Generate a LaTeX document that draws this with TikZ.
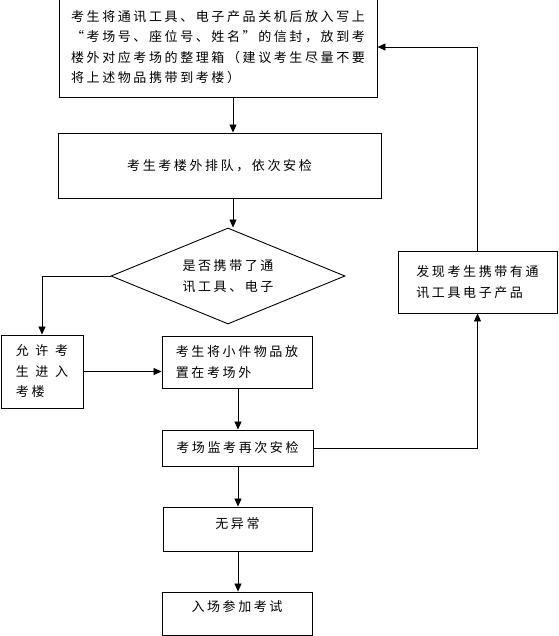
\documentclass[tikz,border=0pt]{standalone}
\usepackage{fontspec}
\newfontfamily\cjk[LetterSpace=20]{Noto Sans CJK SC}
\usetikzlibrary{
    arrows.meta,
    positioning,
    shapes.geometric,
    calc
}

\begin{document}
\begin{tikzpicture}[
    x=1pt, y=-1pt,
    font=\cjk\fontsize{13}{20.5}\selectfont,
    box/.style={
        rectangle,
        draw,
        line width=0.9pt,
        align=left,
        inner sep=0pt
    },
    cond/.style={
        diamond,
        draw,
        line width=0.9pt,
        align=center,
        inner sep=0pt,
        aspect=2.44,
        minimum width=234pt,
        minimum height=96pt
    },
    arrow/.style={-{Triangle[length=8pt, width=7pt]}, line width=0.8pt}
]
\useasboundingbox (0,0) rectangle (558,636);

% 流程框
\node[box, minimum width=318pt, minimum height=100pt] (store) at (218,47) {考生将通讯工具、电子产品关机后放入写上\\“考场号、座位号、姓名”的信封，放到考\\楼外对应考场的整理箱（建议考生尽量不要\\将上述物品携带到考楼）};
\node[box, minimum width=323pt, minimum height=65pt] (queue) at (219.5,165.5) {考生考楼外排队，依次安检};
\node[cond] (carry) at (228,276) {是否携带了通\\讯工具、电子};
\node[box, minimum width=82pt, minimum height=73pt] (allow) at (42,371.5) {允\hspace{6.5pt}许\hspace{6.5pt}考\\生\hspace{6.5pt}进\hspace{6.5pt}入\\考楼};
\node[box, minimum width=150pt, minimum height=52pt] (place) at (237,362) {考生将小件物品放\\置在考场外};
\node[box, minimum width=151pt, minimum height=36pt] (recheck) at (237.5,448) {考场监考再次安检};
\node[box, minimum width=159pt, minimum height=62pt] (found) at (477.5,282) {发现考生携带有通\\讯工具电子产品};
\node[box, minimum width=149pt, minimum height=44pt, text depth=12pt] (normal) at (237.5,529) {无异常};
\node[box, minimum width=150pt, minimum height=43pt, text depth=15pt] (enter) at (237,613.5) {入场参加考试};

% 连线
\coordinate (colA) at (233,0);
\coordinate (colB) at (238,0);
\draw[arrow] (store.south -| colA) -- (queue.north -| colA);
\draw[arrow] (queue.south -| colA) -- (carry.north -| colA);
\draw[arrow] (carry.west) -| (allow.north);
\draw[arrow] (allow.east) -- (place.west |- allow.east);
\draw[arrow] (place.south -| colB) -- (recheck.north -| colB);
\draw[arrow] (recheck.south -| colB) -- (normal.north -| colB);
\draw[arrow] (normal.south -| colB) -- (enter.north -| colB);
\draw[arrow] (recheck.east) -| (found.south);
\draw[arrow] (found.north) |- (store.east);

\end{tikzpicture}
\end{document}
